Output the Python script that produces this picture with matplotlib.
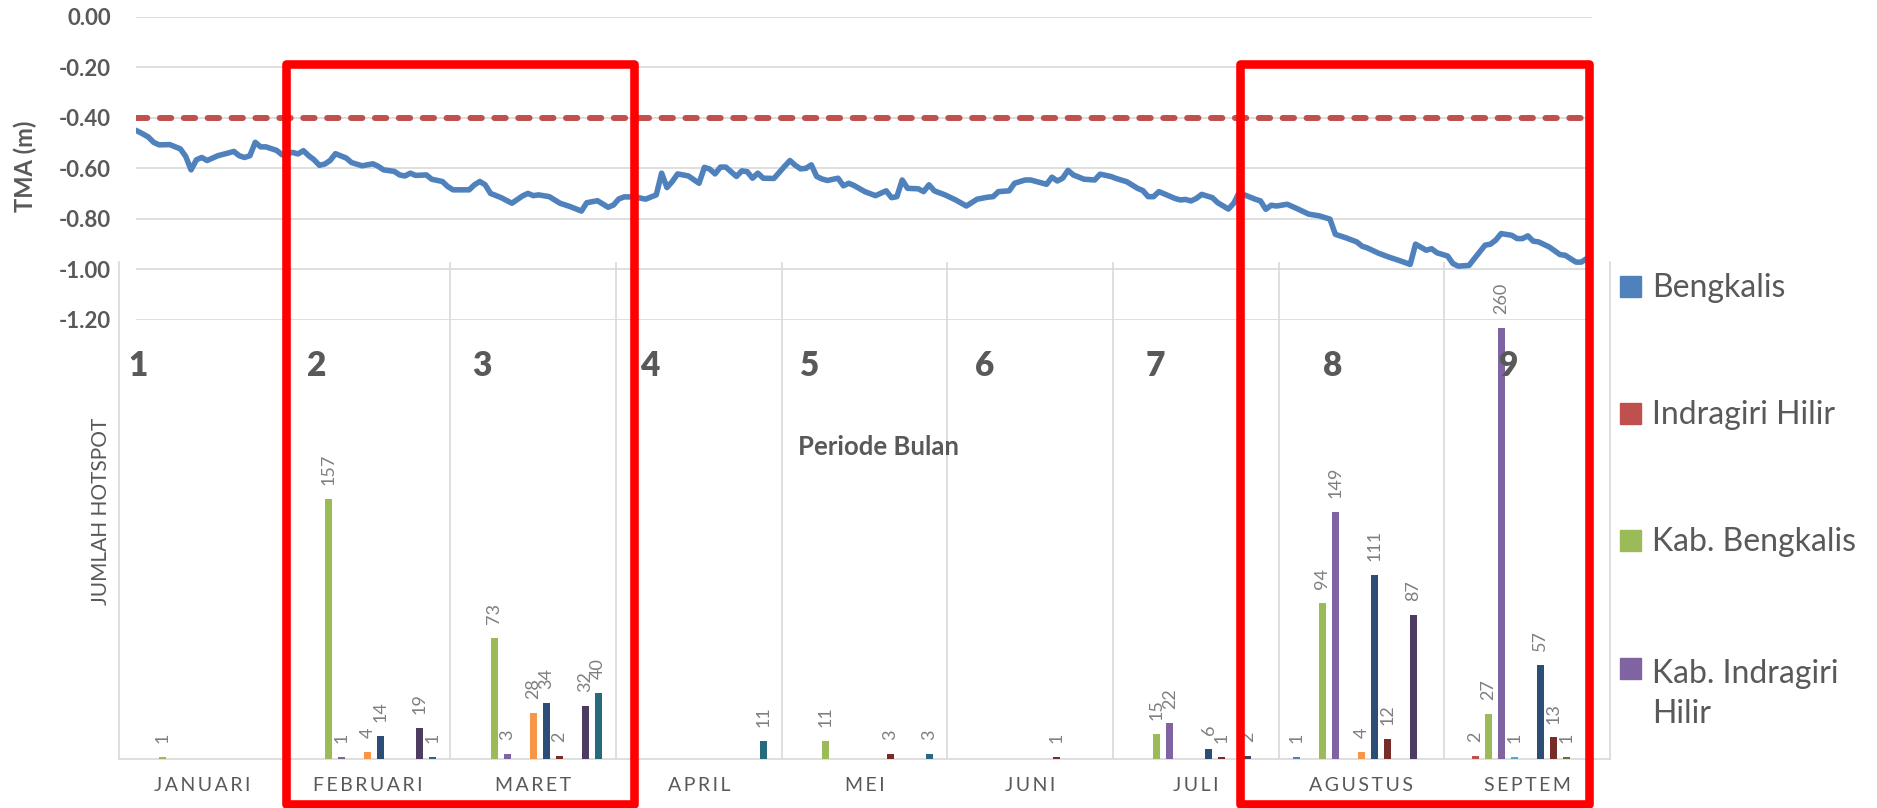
import matplotlib
matplotlib.use("Agg")
import matplotlib.pyplot as plt
from matplotlib.patches import Rectangle
import numpy as np

plt.rcParams['font.family'] = ['Lato', 'DejaVu Sans']

# tinggi muka air (TMA) harian, hari ke- sejak 1 Januari
hari = [
    0, 1, 2, 3, 4, 6, 8, 9, 10, 11,
    12, 13, 15, 17, 18, 19, 20, 21, 22, 23,
    24, 26, 27, 29, 30, 31, 32, 33, 34, 35,
    36, 37, 39, 40, 42, 44, 45, 46, 48, 49,
    50, 51, 52, 54, 55, 57, 58, 59, 62, 63,
    64, 65, 66, 68, 70, 72, 73, 74, 75, 77,
    78, 79, 81, 83, 84, 86, 88, 89, 90, 91,
    93, 95, 97, 98, 99, 100, 101, 103, 105, 106,
    107, 108, 109, 110, 112, 113, 114, 115, 116, 117,
    119, 121, 122, 123, 124, 125, 126, 127, 128, 129,
    131, 132, 133, 134, 136, 138, 140, 141, 142, 143,
    144, 146, 147, 148, 149, 151, 153, 155, 157, 159,
    160, 161, 163, 164, 166, 167, 170, 171, 172, 173,
    174, 175, 177, 179, 180, 182, 183, 185, 187, 188,
    189, 190, 191, 192, 194, 195, 196, 197, 198, 199,
    201, 202, 204, 205, 206, 207, 209, 210, 211, 212,
    213, 215, 217, 219, 221, 223, 224, 226, 228, 229,
    230, 232, 234, 236, 238, 239, 241, 242, 243, 245,
    246, 247, 249, 250, 252, 253, 254, 255, 257, 258,
    259, 260, 261, 262, 264, 266, 267, 269, 270, 271,
]
tma = [
    -0.453, -0.464, -0.476, -0.497, -0.507, -0.506, -0.523, -0.553, -0.606, -0.566,
    -0.557, -0.569, -0.550, -0.539, -0.533, -0.550, -0.557, -0.550, -0.497, -0.515,
    -0.515, -0.529, -0.546, -0.537, -0.543, -0.530, -0.550, -0.566, -0.588, -0.583,
    -0.569, -0.542, -0.559, -0.577, -0.590, -0.582, -0.592, -0.606, -0.612, -0.626,
    -0.630, -0.619, -0.628, -0.626, -0.643, -0.652, -0.672, -0.685, -0.685, -0.665,
    -0.652, -0.665, -0.699, -0.716, -0.738, -0.709, -0.699, -0.708, -0.705, -0.712,
    -0.725, -0.738, -0.752, -0.769, -0.736, -0.728, -0.754, -0.745, -0.721, -0.713,
    -0.713, -0.722, -0.705, -0.619, -0.676, -0.652, -0.622, -0.630, -0.659, -0.596,
    -0.603, -0.622, -0.595, -0.595, -0.632, -0.610, -0.613, -0.639, -0.619, -0.639,
    -0.640, -0.592, -0.569, -0.588, -0.602, -0.600, -0.586, -0.632, -0.642, -0.648,
    -0.639, -0.669, -0.659, -0.668, -0.692, -0.708, -0.689, -0.716, -0.712, -0.646,
    -0.679, -0.681, -0.692, -0.665, -0.689, -0.705, -0.725, -0.749, -0.722, -0.714,
    -0.712, -0.692, -0.689, -0.659, -0.646, -0.646, -0.663, -0.635, -0.650, -0.639,
    -0.608, -0.626, -0.643, -0.646, -0.623, -0.632, -0.640, -0.653, -0.679, -0.688,
    -0.712, -0.712, -0.692, -0.701, -0.719, -0.725, -0.723, -0.729, -0.719, -0.703,
    -0.716, -0.736, -0.761, -0.738, -0.696, -0.705, -0.722, -0.729, -0.762, -0.746,
    -0.749, -0.742, -0.761, -0.781, -0.788, -0.801, -0.861, -0.875, -0.891, -0.908,
    -0.915, -0.935, -0.951, -0.965, -0.980, -0.900, -0.924, -0.918, -0.934, -0.947,
    -0.977, -0.987, -0.984, -0.957, -0.904, -0.900, -0.884, -0.858, -0.865, -0.878,
    -0.878, -0.867, -0.888, -0.891, -0.911, -0.941, -0.944, -0.971, -0.971, -0.957,
]
batas_tma = -0.40

# jumlah hotspot per bulan untuk tiap seri
bulan = ['JANUARI', 'FEBRUARI', 'MARET', 'APRIL', 'MEI', 'JUNI', 'JULI', 'AGUSTUS', 'SEPTEM']
hs_bengkalis = [0, 0, 0, 0, 0, 0, 0, 1, 0]
hs_inhil = [0, 0, 0, 0, 0, 0, 0, 0, 2]
hs_kab_bengkalis = [1, 157, 73, 0, 11, 0, 15, 94, 27]
hs_kab_inhil = [0, 1, 3, 0, 0, 0, 22, 149, 260]
hs_seri5 = [0, 0, 0, 0, 0, 0, 0, 0, 1]
hs_seri6 = [0, 4, 28, 0, 0, 0, 0, 4, 0]
hs_seri7 = [0, 14, 34, 0, 0, 0, 6, 111, 57]
hs_seri8 = [0, 0, 2, 0, 3, 1, 1, 12, 13]
hs_seri9 = [0, 0, 0, 0, 0, 0, 0, 0, 1]
hs_seri10 = [0, 19, 32, 0, 0, 0, 2, 87, 0]
hs_seri11 = [0, 1, 40, 11, 3, 0, 0, 0, 0]
hotspot = [hs_bengkalis, hs_inhil, hs_kab_bengkalis, hs_kab_inhil, hs_seri5, hs_seri6,
           hs_seri7, hs_seri8, hs_seri9, hs_seri10, hs_seri11]
nama_legenda = ['Bengkalis', 'Indragiri Hilir', 'Kab. Bengkalis', 'Kab. Indragiri\nHilir']

warna = ['#4F81BD', '#C0504D', '#9BBB59', '#8064A2', '#4BACC6', '#F79646',
         '#2C4D75', '#772C2A', '#5F7530', '#4D3B62', '#276A7C']
abu = '#595959'
garis = '#D9D9D9'

W, H = 1877, 808
fig = plt.figure(figsize=(W / 100, H / 100), dpi=100)


def fx(px):
    return px / W


def fy(py):
    return 1 - py / H


# grafik batang jumlah hotspot (bawah)
ax2 = fig.add_axes([fx(119), fy(759), fx(1610) - fx(119), fy(262) - fy(759)])
ax2.patch.set_alpha(0)
x = np.arange(len(bulan))
n = len(hotspot)
slot = 0.0785
for j, nilai in enumerate(hotspot):
    pos = x + (j - (n - 1) / 2) * slot
    rects = ax2.bar(pos, nilai, 0.042, color=warna[j], zorder=3)
    for r, v in zip(rects, nilai):
        if v > 0:
            ax2.annotate('{}'.format(v),
                         xy=(r.get_x() + r.get_width() / 2, v),
                         xytext=(0, 10), textcoords='offset points',
                         rotation=90, ha='center', va='bottom',
                         fontsize=13, color='#7F7F7F')
ax2.set_xlim(-0.5, len(bulan) - 0.5)
ax2.set_ylim(0, 300)
ax2.set_yticks([])
ax2.set_xticks(x)
ax2.set_xticklabels(['\u2009'.join(b) for b in bulan], fontsize=14, color=abu)
ax2.set_xticks(np.arange(0.5, len(bulan) - 1, 1), minor=True)
ax2.tick_params(axis='x', which='both', length=0, pad=13)
ax2.grid(axis='x', which='minor', color=garis, linewidth=1.2)
for s in ['left', 'bottom', 'right']:
    ax2.spines[s].set_color(garis)
    ax2.spines[s].set_linewidth(1.2)
ax2.spines['top'].set_visible(False)

# grafik garis TMA (atas)
ax1 = fig.add_axes([fx(136), fy(320), fx(1592) - fx(136), fy(16.7) - fy(320)])
ax1.patch.set_alpha(0)
ax1.axhline(batas_tma, color='#C0504D', linewidth=4.3, linestyle=(0, (1.9, 2.1)),
            dash_capstyle='round', zorder=3)
ax1.plot(hari, tma, color='#4F81BD', linewidth=4.0, solid_joinstyle='round', zorder=4)
ax1.set_xlim(-0.3, 272)
ax1.set_ylim(-1.2, 0)
ax1.set_yticks(np.linspace(-1.2, 0, 7))
ax1.set_yticklabels(['{:.2f}'.format(v) for v in np.linspace(-1.2, 0, 7)],
                    fontsize=16, fontweight='bold', color=abu)
ax1.set_xticks([])
ax1.tick_params(axis='y', length=0, pad=18)
ax1.grid(axis='y', color=garis, linewidth=1.2)
for s in ax1.spines.values():
    s.set_visible(False)

fig.text(fx(25), fy(166), 'TMA (m)', rotation=90, ha='center', va='center',
         fontsize=17, fontweight='bold', color=abu)
fig.text(fx(101), fy(511), 'JUMLAH HOTSPOT', rotation=90, ha='center', va='center',
         fontsize=15, color=abu)
fig.text(fx(879), fy(447), 'Periode Bulan', ha='center', va='center',
         fontsize=18.5, fontweight='bold', color=abu)

# nomor urut bulan
nomor_px = [138, 317, 482, 650, 810, 985, 1155, 1333, 1509]
for k, px in enumerate(nomor_px):
    fig.text(fx(px), fy(366), str(k + 1), ha='center', va='center',
             fontsize=24, fontweight='heavy', color=abu)

# legenda, baris kedua label berjarak 44 px
legenda_py = [286, 413, 540, 668]
for nama, py, c in zip(nama_legenda, legenda_py, warna):
    fig.add_artist(Rectangle((fx(1620), fy(py + 10.5)), fx(21), 21 / H,
                             transform=fig.transFigure, color=c))
    baris_akhir = py + 11 + 44 * nama.count('\n')
    fig.text(fx(1652), fy(baris_akhir), nama, ha='left', va='baseline',
             fontsize=23, color=abu, linespacing=1.4)

# kotak sorotan periode
for kiri, kanan in [(285.5, 633.5), (1239.5, 1589)]:
    fig.add_artist(Rectangle((fx(kiri), fy(804)), fx(kanan) - fx(kiri), fy(64) - fy(804),
                             transform=fig.transFigure, fill=False,
                             edgecolor='#FF0000', linewidth=6.2, joinstyle='round',
                             zorder=10))

fig.savefig('out.png', dpi=100)
